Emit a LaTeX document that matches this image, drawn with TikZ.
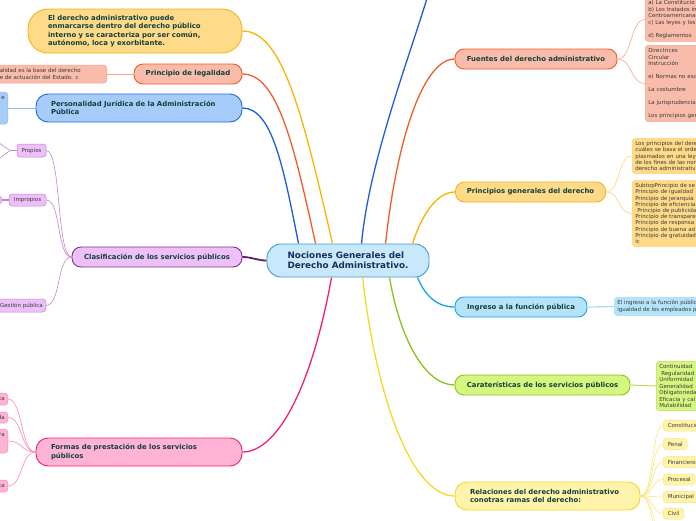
\documentclass[tikz,border=0pt]{standalone}
\usepackage{fontspec}
\setmainfont{DejaVu Sans}
\usepackage{tikz}
\usetikzlibrary{calc,positioning}
\definecolor{CentroFondo}{HTML}{C7E9FB}
\definecolor{CentroBorde}{HTML}{3D9AD6}
\definecolor{TextoCentro}{HTML}{1C2D5A}
\definecolor{TextoRama}{HTML}{12403A}
\definecolor{TextoHoja}{HTML}{3B3B3B}
\definecolor{AmarFondo}{HTML}{FFDA88}
\definecolor{AmarBorde}{HTML}{F5B21B}
\definecolor{AmarLinea}{HTML}{F7B500}
\definecolor{AmarHoja}{HTML}{FFD36E}
\definecolor{SalmFondo}{HTML}{F9BCAA}
\definecolor{SalmBorde}{HTML}{F15A2B}
\definecolor{SalmLinea}{HTML}{F25B2A}
\definecolor{SalmHoja}{HTML}{F7A68D}
\definecolor{AzulFondo}{HTML}{A8CCFA}
\definecolor{AzulBorde}{HTML}{1F69D8}
\definecolor{AzulLinea}{HTML}{1C5FD5}
\definecolor{AzulHoja}{HTML}{8FBBF3}
\definecolor{LilaFondo}{HTML}{EDC0F9}
\definecolor{LilaBorde}{HTML}{7A3585}
\definecolor{LilaLinea}{HTML}{5E2068}
\definecolor{LilaHoja}{HTML}{C184CF}
\definecolor{RosaFondo}{HTML}{FFB3D5}
\definecolor{RosaBorde}{HTML}{EE2077}
\definecolor{RosaLinea}{HTML}{F0207A}
\definecolor{RosaHoja}{HTML}{FF86BC}
\definecolor{CelesteFondo}{HTML}{B5E3FA}
\definecolor{CelesteBorde}{HTML}{19A4EA}
\definecolor{CelesteLinea}{HTML}{12A2E9}
\definecolor{CelesteHoja}{HTML}{A6DCF8}
\definecolor{VerdeFondo}{HTML}{D6F77F}
\definecolor{VerdeBorde}{HTML}{8CC21E}
\definecolor{VerdeLinea}{HTML}{8BC21B}
\definecolor{VerdeHoja}{HTML}{B9DE62}
\definecolor{CremaFondo}{HTML}{FFF4AA}
\definecolor{CremaBorde}{HTML}{F2D72A}
\definecolor{CremaLinea}{HTML}{F3D92B}
\definecolor{CremaHoja}{HTML}{FAE57E}
\tikzset{
  rama/.style={draw, rounded corners=9pt, line width=0.9pt, inner sep=0pt,
    font=\bfseries\fontsize{6.9}{8.3}\selectfont, text=TextoRama, align=center},
  hoja/.style={draw, rounded corners=3pt, line width=0.5pt, inner xsep=3pt, inner ysep=3pt,
    font=\fontsize{5.5}{6.5}\selectfont, text=TextoHoja, align=left},
  corta/.style={hoja, inner xsep=4.5pt, inner ysep=0pt, minimum height=11pt},
  enlace/.style={line width=1.3pt},
  enlacefino/.style={line width=0.6pt},
}

\begin{document}
\begin{tikzpicture}[x=1pt,y=1pt]
  \useasboundingbox (0,0) rectangle (696,-520);
  \clip (0,0) rectangle (696,-520);

  % nodo central
  \node[draw=CentroBorde, fill=CentroFondo, line width=0.9pt, rounded corners=14pt,
    minimum width=162pt, minimum height=33pt, inner sep=0pt, align=left,
    font=\bfseries\fontsize{8.8}{10.3}\selectfont, text=TextoCentro]
    (centro) at (348,-260.5) {Nociones Generales del\\Derecho Administrativo.};

  % ramas de la izquierda
  \node[rama, fill=AmarFondo, draw=AmarBorde, rounded corners=20pt, minimum width=214pt,
    minimum height=44pt, text width=174pt, inner xsep=20pt, align=left]
    (ederecho) at (135,-31) {El derecho administrativo puede\\enmarcarse dentro del derecho público\\interno y se caracteriza por ser común,\\autónomo, loca y exorbitante.};
  \node[rama, fill=SalmFondo, draw=SalmBorde, minimum width=108pt, minimum height=20pt]
    (legal) at (188,-74) {Principio de legalidad};
  \node[rama, fill=AzulFondo, draw=AzulBorde, rounded corners=12pt, minimum width=206pt,
    minimum height=28pt, text width=176pt, inner xsep=15pt, align=left]
    (personalidad) at (139,-108) {Personalidad Jurídica de la Administración\\Pública};
  \node[rama, fill=LilaFondo, draw=LilaBorde, minimum width=170pt, minimum height=20pt]
    (clasif) at (157,-257) {Clasificación de los servicios públicos};
  \node[rama, fill=RosaFondo, draw=RosaBorde, rounded corners=12pt, minimum width=206pt,
    minimum height=28pt, text width=176pt, inner xsep=15pt, align=left]
    (formas) at (139,-452) {Formas de prestación de los servicios\\públicos};

  % ramas de la derecha
  \node[rama, fill=SalmFondo, draw=SalmBorde, minimum width=162pt, minimum height=20pt]
    (fuentes) at (536,-59) {Fuentes del derecho administrativo};
  \node[rama, fill=AmarFondo, draw=AmarBorde, minimum width=150pt, minimum height=20pt]
    (principios) at (530.5,-192) {Principios generales del derecho};
  \node[rama, fill=CelesteFondo, draw=CelesteBorde, minimum width=132pt, minimum height=20pt]
    (ingreso) at (521,-307) {Ingreso a la función pública};
  \node[rama, fill=VerdeFondo, draw=VerdeBorde, minimum width=175pt, minimum height=20pt]
    (caract) at (542.5,-385) {Caraterísticas de los servicios públicos};
  \node[rama, fill=CremaFondo, draw=CremaBorde, rounded corners=12pt, minimum width=185pt,
    minimum height=28pt, text width=155pt, inner xsep=15pt, align=left]
    (relaciones) at (547.5,-496) {Relaciones del derecho administrativo\\conotras ramas del derecho:};

  % hojas de la izquierda
  \node[hoja, fill=SalmFondo, draw=SalmHoja, anchor=east, text width=104pt, minimum height=18pt]
    (legalDetalle) at (107,-74) {alidad es la base del derecho\\e de actuación del Estado. c};
  \node[hoja, fill=AzulFondo, draw=AzulHoja, anchor=east, text width=14pt, minimum height=32pt, align=right]
    (personalidadDetalle) at (8,-108) {e\\\mbox{}\\\mbox{}\\\mbox{}};
  \node[corta, fill=LilaFondo, draw=LilaHoja, minimum width=29pt, minimum height=13pt, inner xsep=2pt]
    (propios) at (31.5,-150.5) {Propios};
  \node[corta, fill=LilaFondo, draw=LilaHoja, minimum width=37pt, minimum height=12pt, inner xsep=2pt]
    (impropios) at (27.5,-200) {Impropios};
  \node[corta, fill=LilaFondo, draw=LilaHoja, anchor=east, minimum height=13pt, inner xsep=3pt]
    (gestion) at (46,-305.5) {Gestión pública};
  \node[corta, fill=LilaFondo, draw=LilaHoja, anchor=east, minimum width=30pt, minimum height=8pt]
    (impropiosHijo) at (2,-200) {};
  \node[corta, fill=RosaFondo, draw=RosaHoja, anchor=east, text width=20pt, minimum height=12pt, inner xsep=3pt, align=right]
    (formasA) at (8,-399) {ta};
  \node[corta, fill=RosaFondo, draw=RosaHoja, anchor=east, text width=20pt, minimum height=11pt, inner xsep=3pt, align=right]
    (formasB) at (8,-417.5) {da};
  \node[hoja, fill=RosaFondo, draw=RosaHoja, anchor=east, text width=20pt, minimum height=24pt, align=right]
    (formasC) at (8,-441) {ra\\\mbox{}\\\mbox{}};
  \node[corta, fill=RosaFondo, draw=RosaHoja, anchor=east, text width=20pt, minimum height=12pt, inner xsep=3pt, align=right]
    (formasD) at (8,-486) {ca};
  \coordinate (propiosArriba) at (-12,-138);
  \coordinate (propiosAbajo) at (-12,-164);
  \coordinate (arribaFuera) at (432,20);

  % hojas de la derecha
  \node[hoja, fill=SalmFondo, draw=SalmHoja, anchor=west, text width=70pt]
    (fuentesA) at (645,-19.5) {a) La Constitucio\\b) Los tratados in\\Centroamericana\\c) Las leyes y los\\\mbox{}\\d) Reglamentos};
  \node[hoja, fill=SalmFondo, draw=SalmHoja, anchor=west, text width=70pt]
    (fuentesB) at (645,-83.5) {Directrices\\Circular\\Instrucción\\\mbox{}\\e) Normas no esc\\\mbox{}\\La costumbre\\\mbox{}\\La jurisprudencia\\\mbox{}\\Los principios gen};
  \node[hoja, fill=AmarFondo, draw=AmarHoja, anchor=west, text width=80pt, font=\fontsize{5.5}{6.2}\selectfont]
    (principiosA) at (632,-156) {Los principios del dere\\cuáles se basa el orde\\plasmados en una ley\\de los fines de las nor\\derecho administrativ};
  \node[hoja, fill=AmarFondo, draw=AmarHoja, anchor=west, text width=80pt, font=\fontsize{5.5}{6.2}\selectfont]
    (principiosB) at (632,-213.5) {SubtopPrincipio de se\\Principio de igualdad\\Principio de jerarquía\\Principio de eficiencia\\\hspace*{2pt}Principio de publicida\\Principio de transpare\\Principio de responsa\\Principio de buena ad\\Principio de gratuidad\\ic};
  \node[hoja, fill=CelesteFondo, draw=CelesteHoja, anchor=west, text width=100pt]
    (ingresoDetalle) at (614,-306.5) {El ingreso a la función públic\\igualdad de los empleados p};
  \node[hoja, fill=VerdeFondo, draw=VerdeHoja, anchor=west, text width=60pt]
    (caractDetalle) at (656,-386) {Continuidad\\\hspace*{2pt}Regularidad\\Uniformidad\\Generalidad\\Obligatoriedad\\Eficacia y cal\\Mutabilidad};
  \node[corta, fill=CremaFondo, draw=CremaHoja, anchor=west] (constitucion) at (663,-425.5) {Constitucio};
  \node[corta, fill=CremaFondo, draw=CremaHoja, anchor=west] (penal) at (663,-444) {Penal};
  \node[corta, fill=CremaFondo, draw=CremaHoja, anchor=west] (financiero) at (663,-462) {Financiero};
  \node[corta, fill=CremaFondo, draw=CremaHoja, anchor=west] (procesal) at (663,-479.5) {Procesal};
  \node[corta, fill=CremaFondo, draw=CremaHoja, anchor=west] (municipal) at (663,-497) {Municipal};
  \node[corta, fill=CremaFondo, draw=CremaHoja, anchor=west] (civil) at (663,-513.5) {Civil};
  \coordinate (relFuera1) at (663,-530);
  \coordinate (relFuera2) at (663,-548);

  % enlaces del nodo central
  \draw[enlace, AmarLinea] ([xshift=66pt]centro.north west) .. controls +(-30,130) and +(40,0) .. (ederecho.east);
  \draw[enlace, SalmLinea] ([xshift=49pt]centro.north west) .. controls +(-22,100) and +(35,0) .. (legal.east);
  \draw[enlace, AzulLinea] ([xshift=32pt]centro.north west) .. controls +(-15,75) and +(30,0) .. (personalidad.east);
  \draw[enlace, AzulLinea] ([xshift=95pt]centro.north west) .. controls +(8,90) and +(-12,-50) .. (arribaFuera);
  \draw[enlace, SalmLinea] ([xshift=119pt]centro.north west) .. controls +(12,110) and +(-30,0) .. (fuentes.west);
  \draw[enlace, AmarLinea] ([xshift=146pt]centro.north west) .. controls +(8,25) and +(-20,0) .. (principios.west);
  \draw[enlace, CelesteLinea] ([xshift=151pt]centro.south west) .. controls +(6,-15) and +(-20,0) .. (ingreso.west);
  \draw[enlace, VerdeLinea] ([xshift=123pt]centro.south west) .. controls +(10,-60) and +(-30,0) .. (caract.west);
  \draw[enlace, CremaLinea] ([xshift=96pt]centro.south west) .. controls +(15,-130) and +(-40,0) .. (relaciones.west);
  \draw[enlace, RosaLinea] ([xshift=65pt]centro.south west) .. controls +(-20,-110) and +(35,0) .. (formas.east);
  \draw[enlace, LilaLinea, line width=1.8pt] (centro.west) to[out=180,in=0] (clasif.east);

  % enlaces de las hojas
  \draw[enlacefino, SalmHoja, line width=1pt] (legal.west) -- (legalDetalle.east);
  \draw[enlacefino, AzulHoja, line width=1pt] (personalidad.west) -- (personalidadDetalle.east);
  \foreach \h in {propios,impropios,gestion}
    \draw[enlacefino, LilaHoja] (clasif.west) .. controls +(-15,0) and +(15,0) .. (\h.east);
  \draw[LilaHoja, line width=1.3pt] (propios.west) -- ++(-5,0) coordinate (propiosNudo);
  \draw[enlacefino, LilaHoja] (propiosNudo) .. controls +(-5,0) and +(8,0) .. (propiosArriba);
  \draw[enlacefino, LilaHoja] (propiosNudo) .. controls +(-5,0) and +(8,0) .. (propiosAbajo);
  \draw[LilaHoja, line width=1.3pt] (impropios.west) -- (impropiosHijo.east);
  \foreach \h in {formasA,formasB,formasC,formasD}
    \draw[enlacefino, RosaHoja] (formas.west) .. controls +(-15,0) and +(15,0) .. (\h.east);
  \foreach \h in {fuentesA,fuentesB}
    \draw[enlacefino, SalmHoja] (fuentes.east) .. controls +(15,0) and +(-15,0) .. (\h.west);
  \foreach \h in {principiosA,principiosB}
    \draw[enlacefino, AmarHoja] (principios.east) .. controls +(15,0) and +(-15,0) .. (\h.west);
  \draw[enlacefino, CelesteHoja, line width=1.2pt] (ingreso.east) -- (ingresoDetalle.west);
  \draw[enlacefino, VerdeHoja, line width=1pt] (caract.east) -- (caractDetalle.west);
  \foreach \h in {constitucion.west,penal.west,financiero.west,procesal.west,municipal.west,civil.west,relFuera1,relFuera2}
    \draw[enlacefino, CremaHoja] (relaciones.east) .. controls +(14,0) and +(-12,0) .. (\h);
\end{tikzpicture}
\end{document}
